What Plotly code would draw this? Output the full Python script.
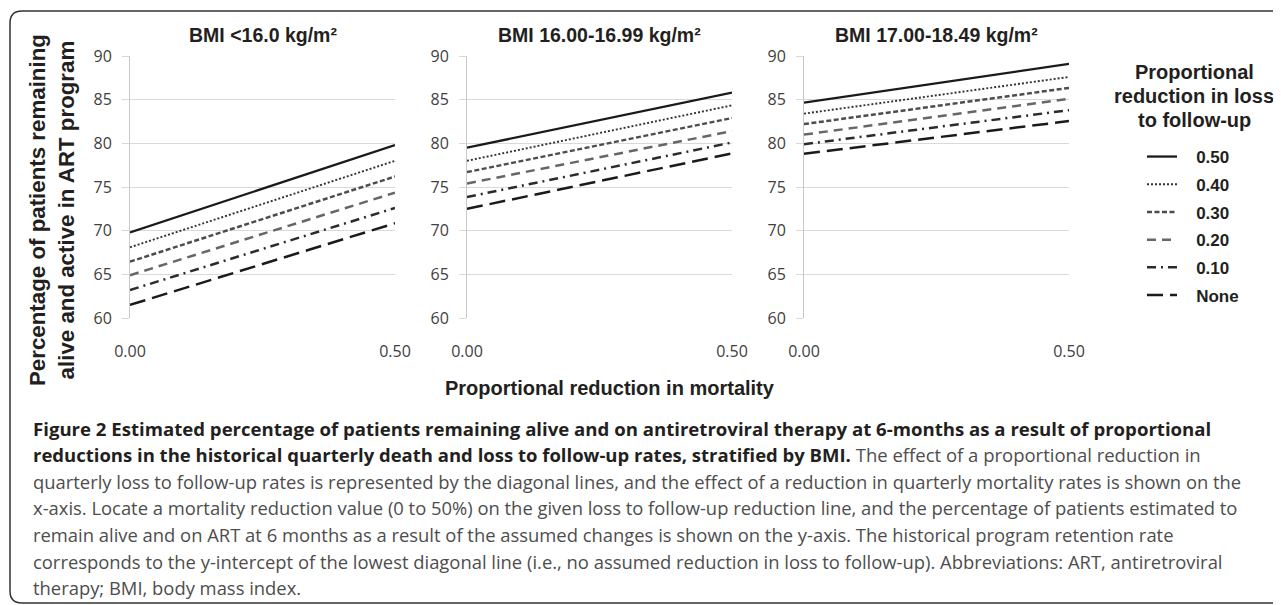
import plotly.graph_objects as go

# The page body adds an 8px margin, so the figure is drawn 8px in from the
# window's top-left corner; positions below are given in window pixels.
OFF = 8
W, H = 1281 - OFF, 605 - OFF

# ---------------- data ----------------
x_vals = [0.0, 0.5]
series_names = ["0.50", "0.40", "0.30", "0.20", "0.10", "None"]
panel_titles = ["BMI &lt;16.0 kg/m²", "BMI 16.00-16.99 kg/m²", "BMI 17.00-18.49 kg/m²"]

bmi_lt16_start = [69.8, 68.1, 66.45, 64.9, 63.2, 61.5]
bmi_lt16_end = [79.8, 78.0, 76.2, 74.35, 72.6, 70.85]
bmi_16_start = [79.5, 78.0, 76.7, 75.4, 73.85, 72.5]
bmi_16_end = [85.8, 84.35, 82.9, 81.4, 80.1, 78.85]
bmi_17_start = [84.65, 83.4, 82.2, 81.0, 79.9, 78.8]
bmi_17_end = [89.1, 87.6, 86.35, 85.1, 83.8, 82.55]

y_tick_vals = [60, 65, 70, 75, 80, 85, 90]
x_tick_vals = [0.0, 0.5]
x_tick_text = ["0.00", "0.50"]

panels = [
    (bmi_lt16_start, bmi_lt16_end),
    (bmi_16_start, bmi_16_end),
    (bmi_17_start, bmi_17_end),
]

# ---------------- styles ----------------
styles = {
    "0.50": dict(color="#1a1a1a", width=2.3, dash="solid"),
    "0.40": dict(color="#333333", width=1.9, dash="2px,2px"),
    "0.30": dict(color="#4d4d4d", width=2.5, dash="5px,2.5px"),
    "0.20": dict(color="#666666", width=2.5, dash="9px,6px"),
    "0.10": dict(color="#2b2b2b", width=2.5, dash="9px,5px,2px,5px"),
    "None": dict(color="#1a1a1a", width=2.5, dash="16px,7px"),
}

TXT = "#231f20"
SANS = "Liberation Sans, Arial, sans-serif"
TICKF = "Open Sans, Noto Sans, sans-serif"
NB = "\u00a0"


def fx(px):
    return (px - OFF) / W


def fy(py):
    return 1 - (py - OFF) / H


x_domains = [(130, 395), (467, 732), (804, 1069)]
y_domain = [fy(318), fy(56)]

fig = go.Figure()

for p, (starts, ends) in enumerate(panels):
    suffix = "" if p == 0 else str(p + 1)
    for i, name in enumerate(series_names):
        fig.add_trace(
            go.Scatter(
                x=x_vals,
                y=[starts[i], ends[i]],
                mode="lines",
                name=NB * 3 + name,
                legendgroup=name,
                showlegend=(p == 0),
                line=styles[name],
                xaxis="x" + suffix,
                yaxis="y" + suffix,
                hoverinfo="skip",
            )
        )

layout = dict(
    template="none",
    width=W,
    height=H,
    margin=dict(l=0, r=0, t=0, b=0, autoexpand=False),
    paper_bgcolor="white",
    plot_bgcolor="white",
    showlegend=True,
    legend=dict(
        x=fx(1107),
        y=fy(139),
        xanchor="left",
        yanchor="top",
        font=dict(family=SANS, size=17, color=TXT, weight="bold"),
        tracegroupgap=2.6,
        indentation=35,
        bgcolor="rgba(0,0,0,0)",
        borderwidth=0,
        traceorder="grouped",
    ),
)

for p in range(3):
    suffix = "" if p == 0 else str(p + 1)
    a, b = x_domains[p]
    layout["xaxis" + suffix] = dict(
        domain=[fx(a), fx(b)],
        range=[0, 0.5],
        tickvals=x_tick_vals,
        ticktext=x_tick_text,
        showgrid=False,
        zeroline=False,
        showline=False,
        ticks="",
        ticklabelstandoff=22,
        tickfont=dict(family=TICKF, size=16, color="#404040"),
        anchor="y" + suffix,
        automargin=False,
        fixedrange=True,
    )
    layout["yaxis" + suffix] = dict(
        domain=y_domain,
        range=[60, 90],
        tickvals=y_tick_vals,
        showgrid=True,
        gridcolor="#d9d9d9",
        gridwidth=1,
        zeroline=False,
        showline=True,
        linecolor="#c8c8c8",
        linewidth=1,
        ticks="outside",
        ticklen=7,
        tickcolor="#d9d9d9",
        ticklabelstandoff=7,
        tickfont=dict(family=TICKF, size=16, color="#404040"),
        anchor="x" + suffix,
        automargin=False,
        fixedrange=True,
    )

fig.update_layout(**layout)

annotations = []
for p in range(3):
    a, b = x_domains[p]
    annotations.append(
        dict(
            text="<b>" + panel_titles[p] + "</b>",
            x=fx((a + b) / 2), y=fy(35),
            xref="paper", yref="paper",
            xanchor="center", yanchor="middle",
            showarrow=False,
            font=dict(family=SANS, size=19.5, color=TXT),
        )
    )

annotations.append(
    dict(
        text="<b>Percentage of patients remaining<br>alive and active in ART program</b>",
        x=fx(52), y=fy(210),
        xref="paper", yref="paper",
        xanchor="center", yanchor="middle",
        textangle=-90,
        showarrow=False,
        font=dict(family=SANS, size=22.3, color=TXT),
    )
)

annotations.append(
    dict(
        text="<b>Proportional reduction in mortality</b>",
        x=fx(610), y=fy(388),
        xref="paper", yref="paper",
        xanchor="center", yanchor="middle",
        showarrow=False,
        font=dict(family=SANS, size=20, color=TXT),
    )
)

legend_title_lines = ["Proportional", "reduction in loss", "to follow-up"]
for i, t in enumerate(legend_title_lines):
    annotations.append(
        dict(
            text="<b>" + t + "</b>",
            x=fx(1194), y=fy(72 + 24 * i),
            xref="paper", yref="paper",
            xanchor="center", yanchor="middle",
            showarrow=False,
            font=dict(family=SANS, size=20, color=TXT),
        )
    )

caption_lines = [
    "<b>Figure 2 Estimated percentage of patients remaining alive and on antiretroviral therapy at 6-months as a result of proportional</b>",
    "<b>reductions in the historical quarterly death and loss to follow-up rates, stratified by BMI.</b> "
    "<span style='color:#4d4d4d'>The effect of a proportional reduction in</span>",
    "quarterly loss to follow-up rates is represented by the diagonal lines, and the effect of a reduction in quarterly mortality rates is shown on the",
    "x-axis. Locate a mortality reduction value (0 to 50%) on the given loss to follow-up reduction line, and the percentage of patients estimated to",
    "remain alive and on ART at 6 months as a result of the assumed changes is shown on the y-axis. The historical program retention rate",
    "corresponds to the y-intercept of the lowest diagonal line (i.e., no assumed reduction in loss to follow-up). Abbreviations: ART, antiretroviral",
    "therapy; BMI, body mass index.",
]
caption_sizes = [18.6, 18.5, 18.4, 18.4, 18.4, 18.4, 18.4]
for i, line in enumerate(caption_lines):
    annotations.append(
        dict(
            text=line,
            x=fx(31), y=fy(428 + 26.6 * i),
            xref="paper", yref="paper",
            xanchor="left", yanchor="middle",
            showarrow=False,
            font=dict(family=TICKF, size=caption_sizes[i], color=TXT if i < 2 else "#4d4d4d"),
        )
    )

fig.update_layout(annotations=annotations)

# rounded border frame
x0, x1 = 10, 1300
yt, yb = 11, 603
r = 12
path = (
    f"M {fx(x0 + r)},{fy(yt)} L {fx(x1)},{fy(yt)} L {fx(x1)},{fy(yb)} "
    f"L {fx(x0 + r)},{fy(yb)} Q {fx(x0)},{fy(yb)} {fx(x0)},{fy(yb - r)} "
    f"L {fx(x0)},{fy(yt + r)} Q {fx(x0)},{fy(yt)} {fx(x0 + r)},{fy(yt)}"
)
fig.add_shape(
    type="path", path=path, xref="paper", yref="paper",
    line=dict(color="#333333", width=1.5),
)

fig.write_html("out.html")
